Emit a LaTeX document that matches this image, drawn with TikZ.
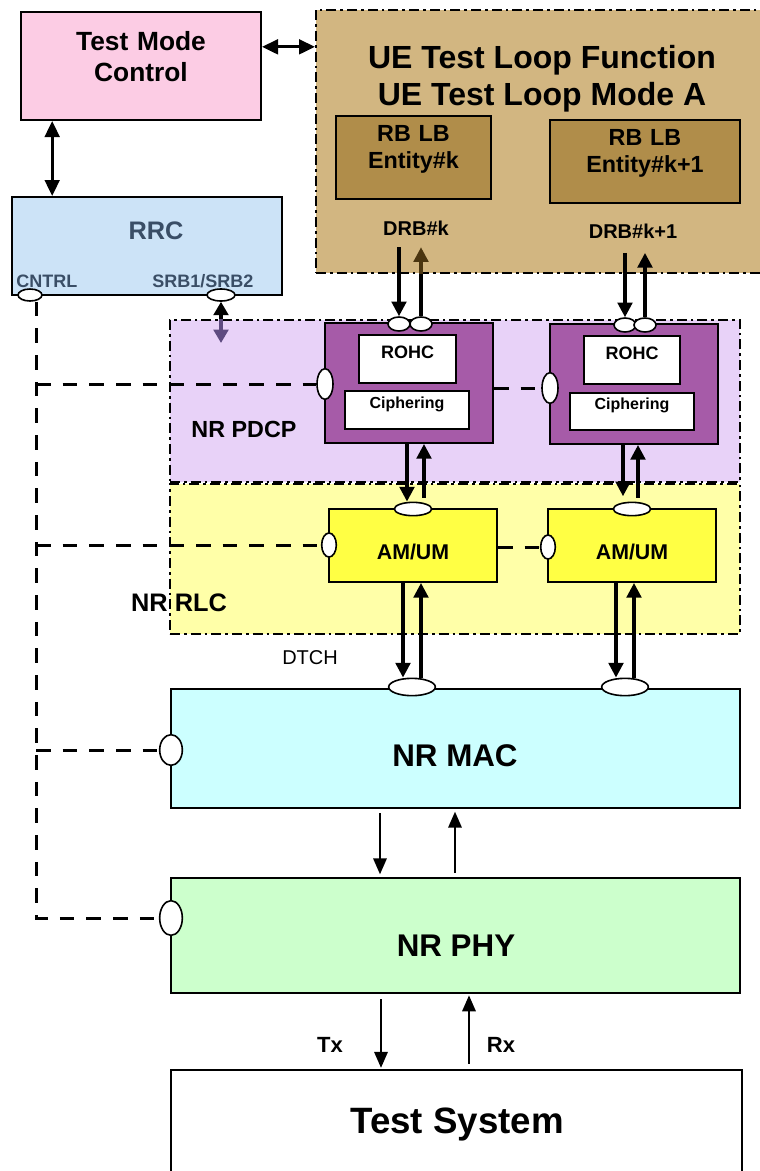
\documentclass[tikz,border=0pt]{standalone}
\usepackage{fontspec}
\setmainfont{Liberation Sans}
\usetikzlibrary{arrows.meta,shapes.geometric,fit,calc}
\pgfdeclarelayer{bg}
\pgfdeclarelayer{lines}
\pgfsetlayers{bg,lines,main}
\definecolor{tmcpink}{HTML}{FCCCE4}
\definecolor{rrcblue}{HTML}{CCE3F7}
\definecolor{uetan}{HTML}{D2B681}
\definecolor{rblb}{HTML}{B08D4A}
\definecolor{pdcpreg}{HTML}{E8D2F8}
\definecolor{pdcpent}{HTML}{A65BA8}
\definecolor{rlcreg}{HTML}{FFFFA8}
\definecolor{amum}{HTML}{FFFF44}
\definecolor{macc}{HTML}{CCFFFF}
\definecolor{phyc}{HTML}{CCFFCC}
\definecolor{rrctext}{HTML}{3A4E66}
\definecolor{srbpurple}{HTML}{5E4B80}
\definecolor{brownarr}{HTML}{4A3510}
\begin{document}
\begin{tikzpicture}[x=0.75pt,y=-0.75pt,
  box/.style={draw, line width=1.5pt, inner sep=0pt, align=center},
  region/.style={draw, line width=1.5pt, inner sep=0pt, dash pattern=on 7.5pt off 3pt on 2pt off 3pt},
  port/.style={ellipse, draw, fill=white, line width=1.2pt, inner sep=0pt},
  ctrl/.style={line width=2.25pt, dash pattern=on 11pt off 9pt},
  bigarr/.style={line width=2.4pt, -{Triangle[length=11pt,width=11pt]}},
  dblarr/.style={line width=2.2pt, {Triangle[length=12pt,width=11pt]}-{Triangle[length=12pt,width=11pt]}},
  medarr/.style={line width=1.7pt, -{Triangle[length=12pt,width=10pt]}},
  txt/.style 2 args={font=\fontsize{#1}{#2}\selectfont\bfseries, inner sep=0pt, align=center}
]
\useasboundingbox (0,0) rectangle (760,1171);

\begin{pgfonlayer}{bg}
\node[region, fill=uetan, fit={(316,10) (763,273)}] (ue) {};
\node[region, fill=pdcpreg, fit={(170,320) (740,482)}] (pdcpreg) {};
\node[region, fill=rlcreg, fit={(170,484) (740,634)}] (rlcreg) {};
\end{pgfonlayer}

% boxes
\node[box, fill=tmcpink, fit={(21,12) (261,120)}, txt={19.75pt}{23.5pt}] (tmc) {Test Mode\\Control};
\node[txt={24pt}{28pt}, anchor=base] (uet1) at (542,68) {UE Test Loop Function};
\node[txt={24pt}{28pt}, anchor=base] (uet2) at (542,105) {UE Test Loop Mode A};
\node[box, fill=rblb, fit={(336,116) (491,199)}, txt={17.5pt}{20.5pt}] (rbk) {RB LB\\Entity\#k};
\node[box, fill=rblb, fit={(550,120) (740,203)}, txt={17.5pt}{20.5pt}] (rbk1) {RB LB\\Entity\#k+1};
\node[txt={15pt}{18pt}, anchor=base] (drbk) at (416,235) {DRB\#k};
\node[txt={15pt}{18pt}, anchor=base] (drbk1) at (633,238) {DRB\#k+1};

\node[box, fill=rrcblue, fit={(12,197) (282,295)}] (rrc) {};
\node[txt={19pt}{22pt}, text=rrctext, anchor=base] (rrct) at (156,239) {RRC};
\node[txt={13.5pt}{16pt}, text=rrctext, anchor=base west] (cntrlt) at (16,287) {CNTRL};
\node[txt={13.5pt}{16pt}, text=rrctext, anchor=base west] (srbt) at (152,287) {SRB1/SRB2};

\node[box, fill=pdcpent, fit={(325,323) (493,443)}] (pdA) {};
\node[box, fill=white, fit={(359,335) (456,383)}, txt={13.5pt}{16pt}] (rohcA) {ROHC};
\node[box, fill=white, fit={(345,391) (469,429)}, txt={12pt}{14pt}] (ciphA) {Ciphering};
\node[box, fill=pdcpent, fit={(550,324) (718,444)}] (pdB) {};
\node[box, fill=white, fit={(584,336) (680,384)}, txt={13.5pt}{16pt}] (rohcB) {ROHC};
\node[box, fill=white, fit={(570,393) (694,430)}, txt={12pt}{14pt}] (ciphB) {Ciphering};
\node[txt={17.5pt}{20pt}, anchor=base] (pdcpt) at (244,437) {NR PDCP};

\node[box, fill=amum, fit={(329,509) (497,582)}] (rlcA) {};
\node[txt={16pt}{18pt}, anchor=base] (amA) at (413,559) {AM/UM};
\node[box, fill=amum, fit={(548,509) (716,582)}] (rlcB) {};
\node[txt={16pt}{18pt}, anchor=base] (amB) at (632,559) {AM/UM};
\node[txt={19pt}{22pt}, anchor=base] (rlct) at (179,611) {NR RLC};

\node[font=\fontsize{15pt}{18pt}\selectfont, inner sep=0pt, anchor=base west] (dtch) at (282,664) {DTCH};

\node[box, fill=macc, fit={(171,689) (740,808)}] (mac) {};
\node[txt={23.5pt}{28pt}, anchor=base] (mact) at (455,766) {NR MAC};
\node[box, fill=phyc, fit={(171,878) (740,993)}] (phy) {};
\node[txt={23.5pt}{28pt}, anchor=base] (phyt) at (456,956) {NR PHY};
\node[box, line width=1.2pt, fill=white, fit={(171,1070) (742,1175)}] (ts) {};
\node[txt={27.5pt}{32pt}, anchor=base] (tst) at (457,1133) {Test System};
\node[txt={16.5pt}{18pt}, anchor=base] (tx) at (330,1052) {Tx};
\node[txt={16.5pt}{18pt}, anchor=base] (rx) at (501,1052) {Rx};

% ports
\node[port, minimum width=18pt, minimum height=9pt] (cntrlp) at (30,295) {};
\node[port, minimum width=21pt, minimum height=9pt] (srbp) at (221,295) {};
\node[port, minimum width=16.5pt, minimum height=10.5pt] (pAt1) at (399,324) {};
\node[port, minimum width=16.5pt, minimum height=10.5pt] (pAt2) at (421,324) {};
\node[port, minimum width=16.5pt, minimum height=10.5pt] (pBt1) at (625,325) {};
\node[port, minimum width=16.5pt, minimum height=10.5pt] (pBt2) at (645,325) {};
\node[port, minimum width=12pt, minimum height=23pt] (pAl) at (325,384) {};
\node[port, minimum width=12pt, minimum height=23pt] (pBl) at (550,388) {};
\node[port, minimum width=28pt, minimum height=10pt] (rAt) at (413,509) {};
\node[port, minimum width=28pt, minimum height=10pt] (rBt) at (632,509) {};
\node[port, minimum width=11pt, minimum height=18pt] (rAl) at (329,545) {};
\node[port, minimum width=11pt, minimum height=18pt] (rBl) at (548,547) {};
\node[port, minimum width=35pt, minimum height=13pt] (mt1) at (412,687) {};
\node[port, minimum width=35pt, minimum height=13pt] (mt2) at (625,687) {};
\node[port, minimum width=17pt, minimum height=23pt] (ml) at (171,750) {};
\node[port, minimum width=17pt, minimum height=26pt] (phl) at (171,918) {};

% column coordinates
\coordinate (kAd) at (407,0);
\coordinate (kAu) at (424,0);
\coordinate (kBd) at (623,0);
\coordinate (kBu) at (638,0);
\coordinate (mAd) at (403,0);
\coordinate (mAu) at (421,0);
\coordinate (mBd) at (616,0);
\coordinate (mBu) at (634,0);
\coordinate (pd) at (380,0);
\coordinate (pu) at (455,0);
\coordinate (td) at (381,0);
\coordinate (tu) at (469,0);
\coordinate (bus) at (36,918);
\coordinate (srbend) at (221,343);

\begin{pgfonlayer}{lines}
\draw[dblarr] (tmc.9) -- (tmc.9 -| ue.west);
\draw[dblarr] ($(tmc.south west)!0.133!(tmc.south east)$) coordinate (tr) -- (tr |- rrc.north);

% DRB arrows
\draw[bigarr, shorten <=9pt] (pAt1 |- drbk.south) -- (pAt1.north);
\draw[line width=2.4pt] (pAt2.north) -- (pAt2 |- ue.south);
\draw[bigarr, brownarr, shorten >=9pt] (pAt2 |- ue.south) -- (pAt2 |- drbk.south);
\draw[bigarr, shorten <=11pt] (pBt1 |- drbk1.south) -- (pBt1.north);
\draw[bigarr, shorten >=11pt] (pBt2.north) -- (pBt2 |- drbk1.south);

% PDCP -> RLC
\draw[bigarr] (kAd |- pdA.south) -- (kAd |- rAt.north);
\draw[bigarr, shorten <=3pt] (kAu |- rAt.north) -- (kAu |- pdA.south);
\draw[bigarr, shorten >=4pt] (kBd |- pdB.south) -- (kBd |- rBt.north);
\draw[bigarr, shorten <=3pt] (kBu |- rBt.north) -- (kBu |- pdB.south);

% RLC -> MAC
\draw[bigarr] (mAd |- rlcA.south) -- (mAd |- mt1.north);
\draw[bigarr] (mAu |- mt1.north) -- (mAu |- rlcA.south);
\draw[bigarr] (mBd |- rlcB.south) -- (mBd |- mt2.north);
\draw[bigarr] (mBu |- mt2.north) -- (mBu |- rlcB.south);

% MAC <-> PHY
\draw[medarr, shorten <=3pt, shorten >=2pt] (pd |- mac.south) -- (pd |- phy.north);
\draw[medarr, shorten <=3pt, shorten >=2pt] (pu |- phy.north) -- (pu |- mac.south);
% PHY <-> Test System
\draw[medarr, shorten <=4pt, shorten >=1pt] (td |- phy.south) -- (td |- ts.north);
\draw[medarr, shorten <=4pt, shorten >=1pt] (tu |- ts.north) -- (tu |- phy.south);

% SRB
\draw[line width=2.3pt, -{Triangle[length=10pt,width=11pt]}] (srbp |- pdcpreg.north) -- (srbp.south);
\draw[line width=2.3pt, srbpurple, -{Triangle[length=10pt,width=11pt]}] (srbp |- pdcpreg.north) -- (srbend);

% control bus
\draw[ctrl] (cntrlp.south -| bus) -- (bus) -- (phl.west);
\draw[ctrl] (bus |- pAl) -- (pAl.west);
\draw[ctrl] (bus |- rAl) -- (rAl.west);
\draw[ctrl] (bus |- ml) -- (ml.west);
\draw[ctrl] (pdA.east |- pBl) -- (pBl.west);
\draw[ctrl] (rlcA.east |- rBl) -- (rBl.west);
\end{pgfonlayer}
\end{tikzpicture}
\end{document}
